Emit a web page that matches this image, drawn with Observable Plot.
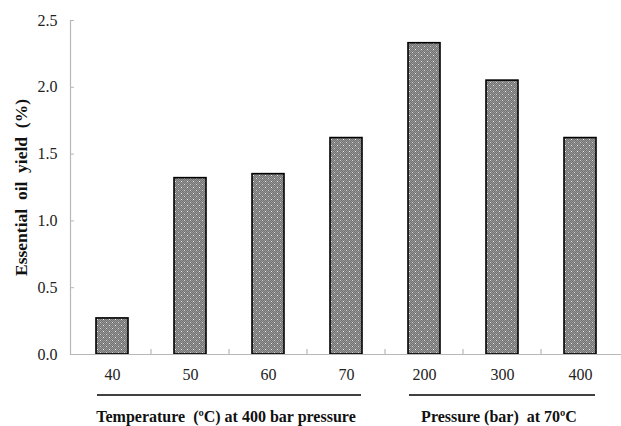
<!DOCTYPE html>
<html><head><meta charset="utf-8">
<script src="https://cdn.jsdelivr.net/npm/d3@7"></script>
<script src="https://cdn.jsdelivr.net/npm/@observablehq/plot@0.6"></script>
<style>body{margin:0;background:#fff}</style>
</head><body><div id="chart"></div>
<script>
const categories = ["40","50","60","70","200","300","400"];
const yields = [0.27, 1.32, 1.35, 1.62, 2.33, 2.05, 1.62];
const yTicks = [0, 0.5, 1, 1.5, 2, 2.5];
const yLabel = "Essential  oil  yield  (%)";
const groupLabels = ["Temperature  (ºC) at 400 bar pressure", "Pressure (bar)  at 70ºC"];
const groupStart = ["40", "200"];
const groupEnd = ["70", "400"];

const data = categories.map((c, i) => ({cat: c, value: yields[i]}));
const font = "'Liberation Serif', 'Times New Roman', serif";

const chart = Plot.plot({
  width: 621, height: 426,
  marginLeft: 70, marginRight: 0, marginTop: 20, marginBottom: 72,
  style: {fontFamily: font, fontSize: "16px", background: "#fff", color: "#222"},
  x: {domain: categories, paddingInner: 0.59, paddingOuter: 0.295, label: null},
  y: {domain: [0, 2.5], label: null},
  marks: [
    Plot.barY(data, {x: "cat", y: "value", fill: "url(#dots)", stroke: "#000", strokeWidth: 1.6}),
    Plot.ruleY([0], {stroke: "#b8b8b8", strokeWidth: 1.2}),
    Plot.frame({anchor: "left", stroke: "#b8b8b8", strokeWidth: 1.2}),
    Plot.axisX({tickSize: 0, tickPadding: 14, fontSize: 16, label: null}),
    Plot.axisY({ticks: yTicks, tickSize: -4, tickPadding: 17, stroke: "#b8b8b8", tickFormat: d3.format(".1f"), fontSize: 16, label: null}),
    Plot.text([yLabel], {frameAnchor: "left", rotate: -90, dx: -49, textAnchor: "middle", fontWeight: "bold", fontSize: 17.5, fill: "#111"})
  ]
});
document.getElementById("chart").appendChild(chart);

const svg = d3.select(chart);
svg.selectAll("text").style("white-space", "pre");
const xs = chart.scale("x");
const ys = chart.scale("y");
const bw = xs.bandwidth, step = xs.step;

// dotted pattern
const defs = svg.insert("defs", ":first-child");
const pat = defs.append("pattern").attr("id", "dots").attr("patternUnits", "userSpaceOnUse")
  .attr("width", 6).attr("height", 6);
pat.append("rect").attr("width", 6).attr("height", 6).attr("fill", "#747474");
for (let i = 0; i < 6; i++) for (let j = 0; j < 6; j++) {
  if ((i + j) % 2 === 0) pat.append("rect").attr("x", i).attr("y", j).attr("width", 1).attr("height", 1).attr("fill", "#959595");
}
pat.append("rect").attr("x", 1).attr("y", 1).attr("width", 1).attr("height", 1).attr("fill", "#f0f0f0");
pat.append("rect").attr("x", 4).attr("y", 4).attr("width", 1).attr("height", 1).attr("fill", "#d8d8d8");

// boundary ticks on x axis
const y0 = ys.apply(0);
for (let i = 1; i < categories.length; i++) {
  const xb = xs.apply(categories[i]) - (step - bw) / 2;
  svg.append("line").attr("x1", xb).attr("x2", xb).attr("y1", y0).attr("y2", y0 - 5)
    .attr("stroke", "#b8b8b8").attr("stroke-width", 1.2);
}

// group lines and labels
const lineY = y0 + 41, textY = y0 + 64;
groupLabels.forEach((lab, k) => {
  const x1 = xs.apply(groupStart[k]), x2 = xs.apply(groupEnd[k]) + bw;
  svg.append("line").attr("x1", x1 + 1).attr("x2", x2 - 1).attr("y1", lineY).attr("y2", lineY)
    .attr("stroke", "#000").attr("stroke-width", 1.6);
  svg.append("text").attr("x", (x1 + x2) / 2 - 3).attr("y", textY).attr("text-anchor", "middle")
    .attr("dominant-baseline", "middle").attr("font-weight", "bold").attr("font-size", 16)
    .attr("font-family", font).attr("fill", "#111").style("white-space", "pre").text(lab);
});
</script>
</body></html>
